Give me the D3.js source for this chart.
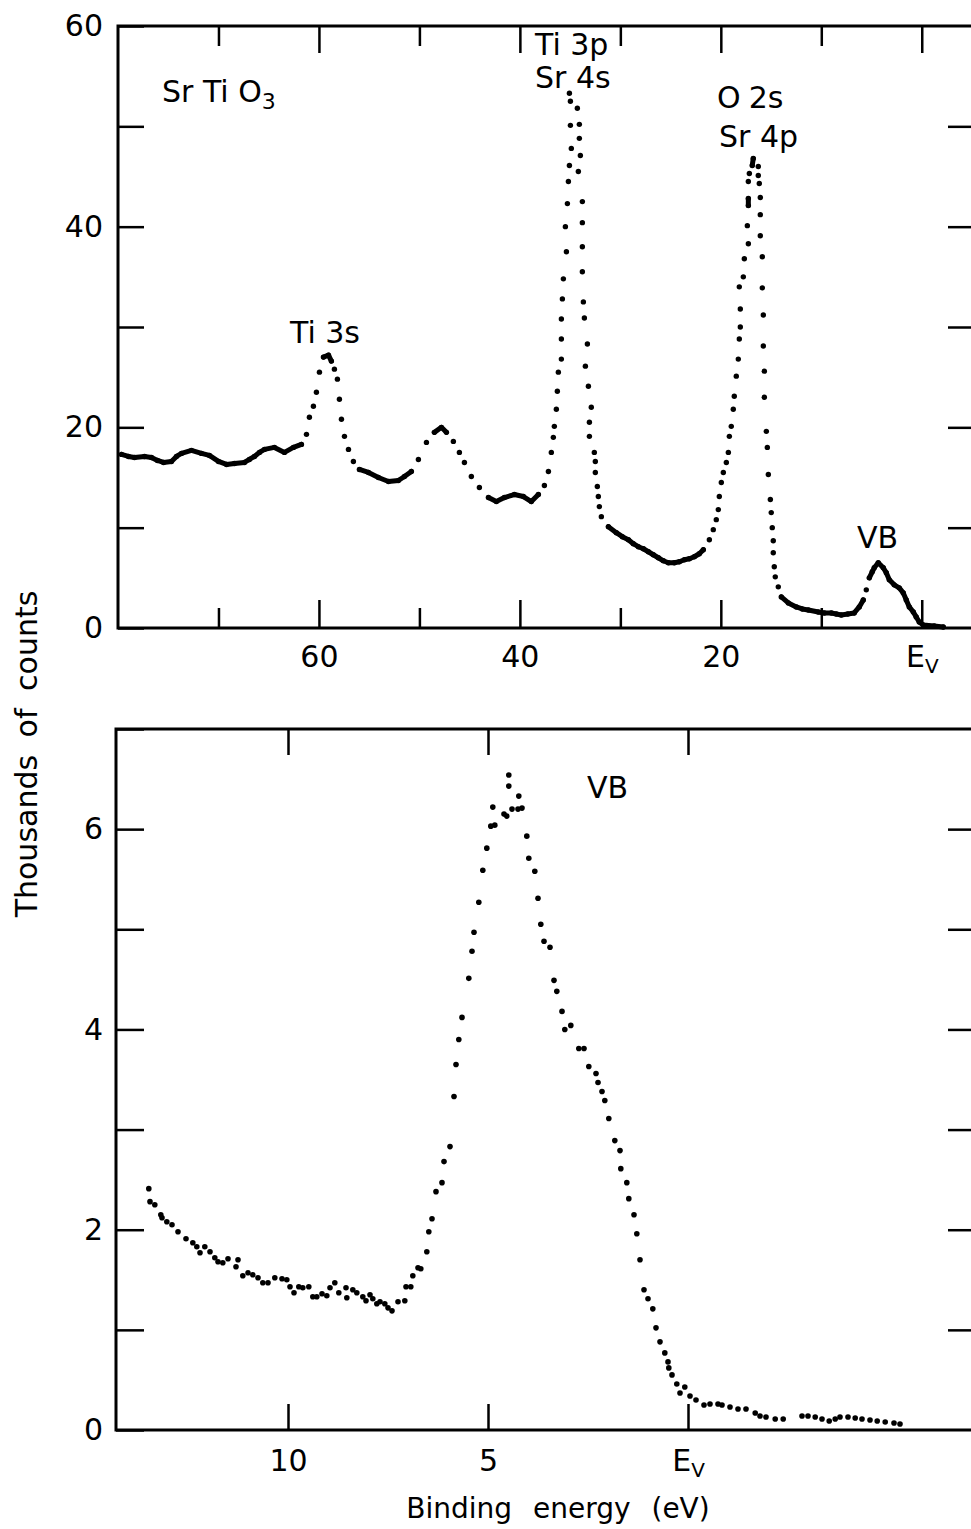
<!DOCTYPE html>
<html>
<head>
<meta charset="utf-8">
<script src="https://cdn.jsdelivr.net/npm/d3@7"></script>
<style>
body { margin: 0; background: #fff; }
text { font-family: "DejaVu Sans", sans-serif; fill: #000; }
</style>
</head>
<body>
<script>
//survey spectrum (upper panel): binding energy in eV, counts in thousands
var surveyEnergy = [79.65,78.96,78.36,77.36,76.67,76.07,75.47,74.68,74.18,73.68,
    72.69,71.69,70.90,70.00,69.20,68.41,67.41,66.92,66.42,65.92,
    65.42,64.43,63.43,62.54,61.74,61.24,60.95,60.55,60.25,59.95,
    59.55,59.05,58.76,58.46,58.16,57.96,57.76,57.46,57.06,56.57,
    55.97,55.07,54.08,53.08,52.09,51.49,50.80,50.10,49.30,48.51,
    47.81,47.31,46.62,46.02,45.52,44.83,44.03,43.13,42.34,41.54,
    40.55,39.65,38.86,38.16,37.56,37.16,36.87,36.67,36.57,36.37,
    36.27,36.17,35.87,35.87,35.87,35.77,35.67,35.37,35.47,35.27,
    35.17,35.07,34.88,34.97,34.97,35.07,34.28,34.08,34.08,33.98,
    34.18,33.78,33.78,33.78,33.78,33.68,33.58,33.28,33.48,33.18,
    32.89,33.08,33.08,32.59,32.49,32.49,32.29,32.19,32.09,31.89,
    31.19,30.40,29.80,29.20,28.71,28.21,27.71,27.21,26.72,26.22,
    25.72,25.22,24.63,24.13,23.63,23.13,22.64,22.14,21.74,21.14,
    20.75,20.45,20.25,20.15,19.95,19.75,19.45,19.25,19.15,18.96,
    18.76,18.66,18.46,18.26,18.16,18.06,18.06,18.16,17.76,17.66,
    17.26,17.36,17.26,17.26,17.26,17.16,16.87,16.77,16.27,16.27,
    16.17,16.07,16.07,16.07,15.87,15.87,15.77,15.77,15.67,15.67,
    15.47,15.37,15.27,15.07,14.98,14.88,14.78,14.78,14.68,14.58,
    14.28,13.98,13.28,12.49,11.89,11.29,10.30,9.70,9.00,8.51,
    8.01,7.36,6.72,6.22,5.82,5.52,5.22,4.93,4.73,4.33,
    3.83,3.53,3.23,2.74,2.24,1.84,1.54,1.24,0.84,0.55,
    0.25,-0.15,-1.24,-2.14];
var surveyCounts = [17.3,17.1,17.0,17.1,17.0,16.7,16.5,16.6,17.1,17.4,
    17.7,17.4,17.2,16.6,16.3,16.4,16.5,16.8,17.1,17.5,
    17.8,18.0,17.5,18.0,18.3,19.3,21.0,22.1,23.5,25.5,
    27.0,27.2,26.6,25.8,24.8,22.8,20.8,19.1,17.8,16.6,
    15.8,15.5,15.0,14.6,14.7,15.1,15.6,16.8,18.5,19.5,
    20.0,19.5,18.6,17.5,16.5,15.1,14.0,13.0,12.6,13.0,
    13.3,13.1,12.6,13.3,14.2,15.6,17.5,19.0,20.1,21.8,
    23.6,25.5,26.8,28.8,30.8,32.8,34.8,37.5,40.0,42.3,
    44.5,46.1,47.8,50.1,52.5,53.3,51.8,50.2,48.8,47.1,
    45.5,42.5,40.4,38.0,35.5,32.5,30.9,28.3,26.1,24.1,
    22.0,20.5,19.1,17.5,16.6,15.5,14.1,13.1,12.1,11.1,
    10.1,9.5,9.1,8.8,8.4,8.1,7.9,7.6,7.3,7.0,
    6.7,6.5,6.5,6.6,6.8,6.9,7.1,7.4,7.8,8.8,
    9.8,10.8,11.8,13.1,14.5,15.5,16.5,17.5,19.1,20.1,
    21.8,23.1,25.1,26.8,28.8,30.0,31.8,34.0,35.0,36.8,
    38.3,40.1,42.1,42.8,44.5,45.3,46.1,46.8,46.0,45.1,
    44.3,42.9,41.2,39.1,37.0,33.9,31.2,28.1,25.6,23.0,
    19.6,18.0,15.3,12.8,11.5,10.0,8.7,7.5,6.1,5.1,
    4.1,3.1,2.5,2.1,1.9,1.8,1.6,1.5,1.5,1.4,
    1.3,1.4,1.5,2.1,2.8,3.8,5.0,5.6,6.0,6.5,
    6.0,5.5,4.8,4.3,4.0,3.5,2.8,2.1,1.6,1.1,
    0.6,0.3,0.2,0.1];

//valence band (lower panel)
var vbEnergy = [13.48,13.45,13.33,13.18,13.15,13.03,12.90,12.75,12.55,12.38,
    12.28,12.20,12.08,11.95,11.83,11.75,11.63,11.50,11.30,11.25,
    11.13,11.00,10.88,10.75,10.63,10.50,10.33,10.15,10.03,9.95,
    9.85,9.73,9.63,9.48,9.38,9.28,9.15,9.03,8.95,8.83,
    8.73,8.55,8.53,8.38,8.28,8.13,8.05,7.95,7.88,7.78,
    7.70,7.58,7.50,7.40,7.25,7.08,7.05,6.93,6.88,6.75,
    6.68,6.53,6.48,6.40,6.30,6.15,6.10,5.95,5.85,5.80,
    5.73,5.65,5.48,5.40,5.35,5.23,5.13,5.03,4.93,4.83,
    4.88,4.60,4.53,4.48,4.48,4.40,4.25,4.23,4.15,4.03,
    3.98,3.83,3.75,3.68,3.60,3.45,3.35,3.28,3.15,3.08,
    2.93,2.73,2.60,2.48,2.30,2.25,2.15,2.08,1.98,1.83,
    1.70,1.68,1.53,1.48,1.35,1.28,1.20,1.10,1.00,0.88,
    0.80,0.70,0.58,0.50,0.48,0.40,0.28,0.20,0.08,-0.05,
    -0.20,-0.40,-0.55,-0.75,-0.85,-1.05,-1.25,-1.45,-1.68,-1.80,
    -1.95,-2.18,-2.38,-2.85,-3.00,-3.18,-3.35,-3.53,-3.68,-3.80,
    -4.00,-4.18,-4.35,-4.55,-4.73,-4.93,-5.15,-5.30];
var vbCounts = [2.41,2.28,2.25,2.15,2.12,2.08,2.05,1.98,1.91,1.87,
    1.83,1.77,1.83,1.78,1.72,1.68,1.67,1.71,1.63,1.70,
    1.54,1.57,1.55,1.52,1.47,1.47,1.52,1.51,1.50,1.43,
    1.37,1.43,1.42,1.43,1.33,1.33,1.36,1.34,1.42,1.47,
    1.37,1.42,1.32,1.40,1.37,1.33,1.29,1.35,1.31,1.26,
    1.28,1.26,1.22,1.19,1.28,1.29,1.43,1.43,1.54,1.62,
    1.61,1.78,1.98,2.11,2.38,2.47,2.68,2.83,3.33,3.65,
    3.90,4.12,4.51,4.78,4.97,5.27,5.59,5.81,6.03,6.04,
    6.22,6.15,6.13,6.43,6.54,6.20,6.20,6.33,6.21,5.93,
    5.71,5.58,5.31,5.05,4.88,4.82,4.49,4.38,4.18,4.00,
    4.04,3.81,3.81,3.63,3.56,3.47,3.38,3.29,3.11,2.89,
    2.79,2.61,2.47,2.31,2.15,1.96,1.70,1.40,1.31,1.21,
    1.02,0.88,0.77,0.68,0.62,0.55,0.46,0.37,0.43,0.34,
    0.30,0.25,0.26,0.26,0.25,0.23,0.21,0.21,0.17,0.14,
    0.13,0.11,0.11,0.14,0.14,0.13,0.11,0.09,0.11,0.13,
    0.13,0.12,0.11,0.10,0.09,0.08,0.07,0.06];

//tick values
var surveyMajorTicks = [60, 40, 20, 0];
var surveyMinorTicks = [70, 50, 30, 10];
var surveyCountTicks = [0, 10, 20, 30, 40, 50, 60];
var surveyCountLabels = [0, 20, 40, 60];
var vbEnergyTicks = [10, 5, 0];
var vbCountTicks = [0, 1, 2, 3, 4, 5, 6, 7];
var vbCountLabels = [0, 2, 4, 6];

var w = 971, h = 1529;
var font = "DejaVu Sans";

var svg = d3.select("body")
    .append("svg")
    .attr("width", w)
    .attr("height", h)
    .style("background-color", "#fff");

//scales for both panels (energy axis runs right to left)
var xTop = d3.scaleLinear().domain([80, -5.2]).range([118, 974]);
var yTop = d3.scaleLinear().domain([0, 60]).range([628, 26]);
var xBot = d3.scaleLinear().domain([14.3, -7.2]).range([116, 976]);
var yBot = d3.scaleLinear().domain([0, 7]).range([1430, 729]);

//frame around a panel
function frame(x, y){
    svg.append("rect")
        .attr("x", x.range()[0])
        .attr("y", y.range()[1])
        .attr("width", x.range()[1] - x.range()[0])
        .attr("height", y.range()[0] - y.range()[1])
        .style("fill", "none")
        .style("stroke", "#000")
        .style("stroke-width", 3);
}

//put an axis in place and style it
function drawAxis(axis, tx, ty){
    var g = svg.append("g")
        .attr("transform", "translate(" + tx + "," + ty + ")")
        .call(axis)
        .attr("font-family", font)
        .attr("font-size", 30);
    g.select(".domain").remove();
    g.selectAll("line").attr("stroke-width", 2.5);
    return g;
}

//turn the zero label into E with a subscript V
function evLabel(g){
    g.selectAll(".tick text")
        .filter(function(d){ return d === 0; })
        .text("")
        .each(function(){
            var t = d3.select(this);
            t.append("tspan").text("E");
            t.append("tspan").attr("font-size", 20).attr("dy", "0.3em").text("V");
        });
}

function noLabel(){ return ""; }

// ---------- upper panel ----------
frame(xTop, yTop);

var gb = drawAxis(d3.axisBottom(xTop).tickValues(surveyMajorTicks).tickSize(-28).tickPadding(18), 0, yTop(0));
evLabel(gb);
drawAxis(d3.axisBottom(xTop).tickValues(surveyMinorTicks).tickSize(-20).tickFormat(noLabel), 0, yTop(0));
drawAxis(d3.axisTop(xTop).tickValues(surveyMajorTicks).tickSize(-27).tickFormat(noLabel), 0, yTop(60));
drawAxis(d3.axisTop(xTop).tickValues(surveyMinorTicks).tickSize(-20).tickFormat(noLabel), 0, yTop(60));
drawAxis(d3.axisLeft(yTop).tickValues(surveyCountTicks).tickSize(-26).tickPadding(15)
    .tickFormat(function(d){ return surveyCountLabels.indexOf(d) >= 0 ? d : ""; }), xTop.range()[0], 0);
drawAxis(d3.axisRight(yTop).tickValues(surveyCountTicks.slice(1, -1)).tickSize(-26).tickFormat(noLabel), xTop.range()[1], 0);

//survey points; neighbours packed closely along the energy axis merge into a heavy trace
var surveyPts = surveyEnergy.map(function(e, i){
    return [xTop(e), yTop(surveyCounts[i])];
});
var runs = [], cur = [surveyPts[0]];
for (var i = 1; i < surveyPts.length; i++){
    var dx = surveyPts[i][0] - surveyPts[i-1][0];
    var dy = surveyPts[i][1] - surveyPts[i-1][1];
    if (Math.sqrt(dx*dx + dy*dy) < 13 && Math.abs(dy) < 8){
        cur.push(surveyPts[i]);
    } else {
        if (cur.length > 1) runs.push(cur);
        cur = [surveyPts[i]];
    }
}
if (cur.length > 1) runs.push(cur);

svg.selectAll(".run")
    .data(runs)
    .enter()
    .append("path")
    .attr("class", "run")
    .attr("d", d3.line())
    .style("fill", "none")
    .style("stroke", "#000")
    .style("stroke-width", 5)
    .style("stroke-linecap", "round")
    .style("stroke-linejoin", "round");

svg.selectAll(".surveyDot")
    .data(surveyPts)
    .enter()
    .append("circle")
    .attr("class", "surveyDot")
    .attr("cx", function(d){ return d[0]; })
    .attr("cy", function(d){ return d[1]; })
    .attr("r", 2.7)
    .style("fill", "#000");

//peak labels
var title = svg.append("text").attr("x", 162).attr("y", 102).attr("font-size", 30);
title.append("tspan").text("Sr Ti O");
title.append("tspan").attr("font-size", 22).attr("dy", 7).text("3");

svg.append("text").attr("x", 290).attr("y", 343).attr("font-size", 30).text("Ti 3s");
svg.append("text").attr("x", 535).attr("y", 55).attr("font-size", 30).text("Ti 3p");
svg.append("text").attr("x", 535).attr("y", 88).attr("font-size", 30).text("Sr 4s");
var o2s = svg.append("text").attr("x", 717).attr("y", 108).attr("font-size", 30);
o2s.append("tspan").text("O");
o2s.append("tspan").attr("dx", 8).text("2s");
svg.append("text").attr("x", 719).attr("y", 147).attr("font-size", 30).text("Sr 4p");
svg.append("text").attr("x", 857).attr("y", 548).attr("font-size", 30).text("VB");

// ---------- lower panel ----------
frame(xBot, yBot);

var gb2 = drawAxis(d3.axisBottom(xBot).tickValues(vbEnergyTicks).tickSize(-26).tickPadding(20), 0, yBot(0));
evLabel(gb2);
drawAxis(d3.axisTop(xBot).tickValues(vbEnergyTicks).tickSize(-26).tickFormat(noLabel), 0, yBot(7));
drawAxis(d3.axisLeft(yBot).tickValues(vbCountTicks).tickSize(-28).tickPadding(13)
    .tickFormat(function(d){ return vbCountLabels.indexOf(d) >= 0 ? d : ""; }), xBot.range()[0], 0);
drawAxis(d3.axisRight(yBot).tickValues(vbCountTicks.slice(1, -1)).tickSize(-26).tickFormat(noLabel), 974, 0);

svg.selectAll(".vbDot")
    .data(vbEnergy)
    .enter()
    .append("circle")
    .attr("class", "vbDot")
    .attr("cx", function(d){ return xBot(d); })
    .attr("cy", function(d, i){ return yBot(vbCounts[i]); })
    .attr("r", 2.8)
    .style("fill", "#000");

svg.append("text").attr("x", 587).attr("y", 798).attr("font-size", 30).text("VB");

// ---------- axis titles ----------
svg.append("text")
    .attr("transform", "translate(37,754) rotate(-90)")
    .attr("text-anchor", "middle")
    .attr("font-size", 30)
    .style("word-spacing", "8px")
    .text("Thousands of counts");

svg.append("text")
    .attr("x", 558)
    .attr("y", 1518)
    .attr("text-anchor", "middle")
    .attr("font-size", 28)
    .style("word-spacing", "12px")
    .text("Binding energy (eV)");
</script>
</body>
</html>
